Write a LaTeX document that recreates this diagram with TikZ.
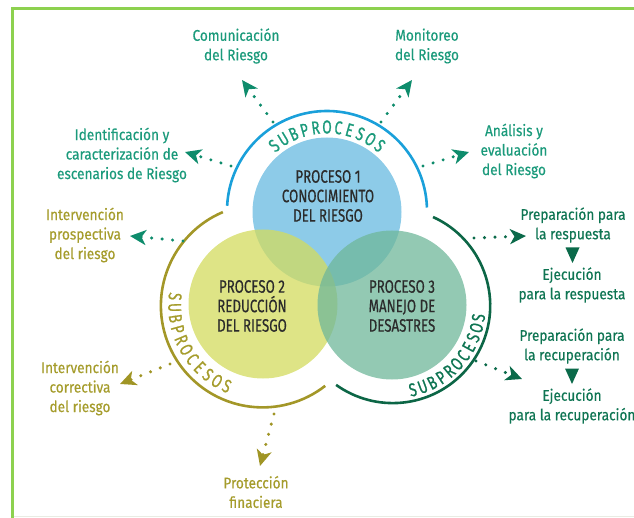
\documentclass[tikz,border=0pt]{standalone}
\usepackage{fontspec}
\setmainfont{Fira Sans}
\newfontfamily\lblfont{Fira Sans}[FakeStretch=0.88,FakeBold=0.4]
\newfontfamily\procfont{Fira Sans}[FakeStretch=0.74,FakeBold=0.5]
\newfontfamily\subfont{Fira Sans}[FakeStretch=0.74,FakeBold=0.9]
\usetikzlibrary{arrows.meta,calc}
\definecolor{cFrame}{HTML}{8DD14F}
\definecolor{cGray}{HTML}{E9ECE3}
\definecolor{cTeal}{HTML}{1B9A7B}
\definecolor{cTealA}{HTML}{0E8C6C}
\definecolor{cOlive}{HTML}{A59C2C}
\definecolor{cOliveA}{HTML}{A09525}
\definecolor{cDk}{HTML}{0F7553}
\definecolor{cDkA}{HTML}{0B6A4A}
\definecolor{cBlueArc}{HTML}{1AA0DA}
\definecolor{cOliveArc}{HTML}{A39728}
\definecolor{cDkArc}{HTML}{0C6646}
\definecolor{cFill1}{HTML}{67BAE0}
\definecolor{cFill2}{HTML}{D3DB5E}
\definecolor{cFill3}{HTML}{6FB79A}
\definecolor{cProc}{HTML}{2B2B2B}
\begin{document}
\begin{tikzpicture}[x=1pt,y=1pt,
  lbl/.style={align=center,inner sep=0pt,font={\lblfont\fontsize{15.5}{19.5}\selectfont}},
  proc/.style={align=center,inner sep=0pt,text=cProc,font={\procfont\fontsize{18}{19.5}\selectfont}},
  sub/.style={inner sep=0pt,font={\subfont\fontsize{18.5}{18.5}\selectfont}},
  proccircle/.style={circle,inner sep=0pt,minimum size=149pt,fill opacity=0.75},
  dotarrow/.style={line width=3.4pt,line cap=round,dash pattern=on 0pt off 10.5pt,
    -{Stealth[length=16pt,width=15pt,inset=4.5pt]}},
  arcline/.style={line width=2.6pt}]
\useasboundingbox (0,0) rectangle (634,-518);
% frame
\draw[cFrame,line width=2.6pt] (12.3,-518) -- (12.3,-8.3) -- (634,-8.3);
\draw[cGray,line width=1pt] (13.6,-516.5) -- (634,-516.5);
% circles
\node[proccircle,fill=cFill1] (k1) at (327,-212) {};
\node[proccircle,fill=cFill2] (k2) at (263,-304) {};
\node[proccircle,fill=cFill3] (k3) at (392,-305) {};
\node[proc] (p1) at (328,-196) {PROCESO 1\\CONOCIMIENTO\\DEL RIESGO};
\node[proc] (p2) at (252,-306) {PROCESO 2\\REDUCCIÓN\\DEL RIESGO};
\node[proc] (p3) at (402,-306) {PROCESO 3\\MANEJO DE\\DESASTRES};
% arcs
\coordinate (a1) at (327,-211);
\coordinate (a2) at (262.6,-305.7);
\coordinate (a3) at (392.8,-305.7);
\draw[arcline,cBlueArc] ($(a1)+(2:100pt)$) arc[start angle=2,end angle=177,radius=100pt];
\draw[arcline,cOliveArc] ($(a2)+(113:101.7pt)$) arc[start angle=113,end angle=308,radius=101.7pt];
\draw[arcline,cDkArc] ($(a3)+(65.6:97.4pt)$) arc[start angle=65.6,end angle=-125.6,radius=97.4pt];
% SUBPROCESOS letters
\foreach \l [count=\i from 0] in {S,U,B,P,R,O,C,E,S,O,S} {
  \pgfmathsetmacro\ang{129-\i*7.8}
  \node[sub,text=cTeal,rotate=\ang-90] (sa\i) at ($(a1)+(\ang:84pt)$) {\l};
}
\foreach \l [count=\i from 0] in {S,U,B,P,R,O,C,E,S,O,S} {
  \pgfmathsetmacro\ang{174+\i*7.2}
  \node[sub,text=cOlive,rotate=\ang+90] (sb\i) at ($(a2)+(\ang:88pt)$) {\l};
}
\foreach \l [count=\i from 0] in {S,U,B,P,R,O,C,E,S,O,S} {
  \pgfmathsetmacro\ang{283.4+\i*6.86}
  \node[sub,text=cDk,rotate=\ang+90] (sc\i) at ($(a3)+(\ang:86.5pt)$) {\l};
}
% labels
\node[lbl,text=cTeal] (comu) at (236,-46) {Comunicación\\del Riesgo};
\node[lbl,text=cTeal] (moni) at (427,-46) {Monitoreo\\del Riesgo};
\node[lbl,text=cTeal] (iden) at (122,-155) {Identificación y\\caracterización de\\escenarios de Riesgo};
\node[lbl,text=cTeal] (anal) at (514,-151) {Análisis y\\evaluación\\del Riesgo};
\node[lbl,text=cOlive] (intp) at (85,-235) {Intervención\\prospectiva\\del riesgo};
\node[lbl,text=cOlive] (intc) at (80,-388) {Intervención\\correctiva\\del riesgo};
\node[lbl,text=cOlive] (prot) at (256,-492) {Protección\\finaciera};
\node[lbl,text=cDk] (prep1) at (573,-225) {Preparación para\\la respuesta};
\node[lbl,text=cDk] (ejec1) at (572,-285) {Ejecución\\para la respuesta};
\node[lbl,text=cDk] (prep2) at (572,-346) {Preparación para\\la recuperación};
\node[lbl,text=cDk] (ejec2) at (572,-406) {Ejecución\\para la recuperación};
% arrows
\coordinate (s1) at (273,-122); \coordinate (t1) at (242,-80);
\coordinate (s2) at (381,-122); \coordinate (t2) at (412,-80);
\coordinate (s3) at (231,-166); \coordinate (t3) at (185,-152);
\coordinate (s4) at (423,-166); \coordinate (t4) at (469,-152);
\coordinate (s5) at (183,-241); \coordinate (t5) at (130,-236);
\coordinate (s6) at (474,-238); \coordinate (t6) at (526,-236);
\coordinate (s7) at (476,-361); \coordinate (t7) at (522,-379);
\coordinate (s8) at (170,-364); \coordinate (t8) at (120,-384);
\coordinate (s9) at (274,-414); \coordinate (t9) at (260,-466);
\draw[dotarrow,cTealA] (s1) -- (t1);
\draw[dotarrow,cTealA] (s2) -- (t2);
\draw[dotarrow,cTealA] (s3) -- (t3);
\draw[dotarrow,cTealA] (s4) -- (t4);
\draw[dotarrow,cTealA] (s5) -- (t5);
\draw[dotarrow,cDkA] (s6) -- (t6);
\draw[dotarrow,cDkA] (s7) -- (t7);
\draw[dotarrow,cOliveA] (s8) -- (t8);
\draw[dotarrow,cOliveA] (s9) -- (t9);
% down triangles
\coordinate (m1) at ($(prep1.south)!0.5!(ejec1.north)$);
\coordinate (m2) at ($(prep2.south)!0.5!(ejec2.north)$);
\fill[cDkA] ($(m1)+(-7,7.5)$) -- ($(m1)+(7,7.5)$) -- ($(m1)+(0,-8)$) -- cycle;
\fill[cDkA] ($(m2)+(-7,7.5)$) -- ($(m2)+(7,7.5)$) -- ($(m2)+(0,-8)$) -- cycle;
\end{tikzpicture}
\end{document}
